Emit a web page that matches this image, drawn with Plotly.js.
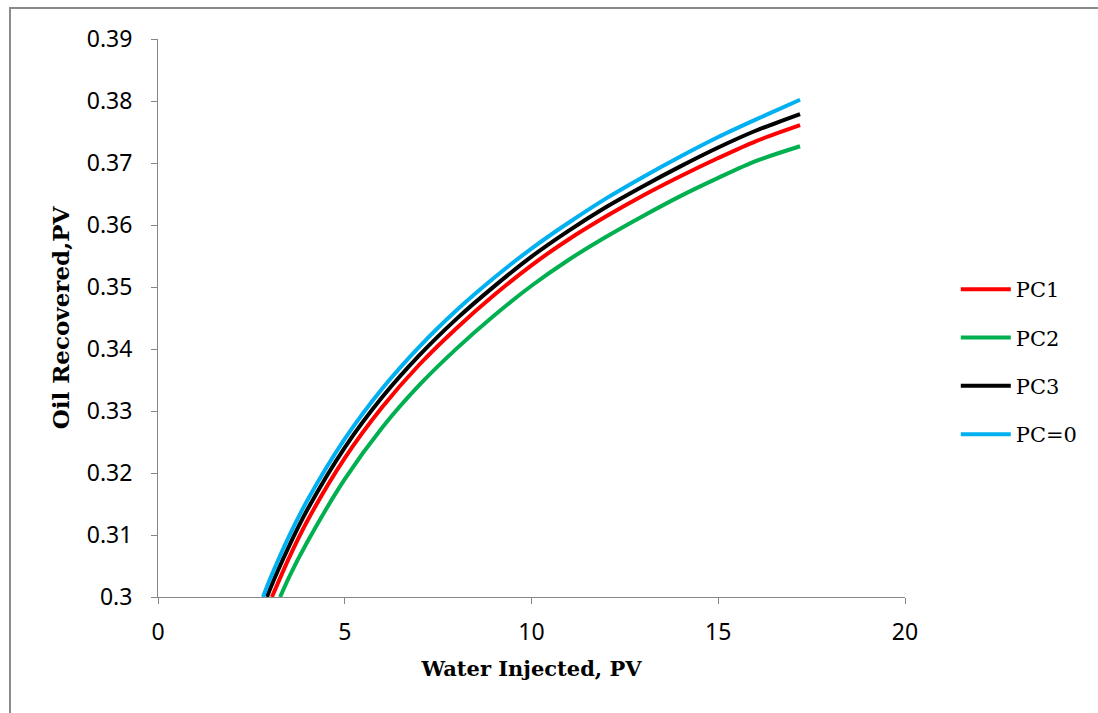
<!DOCTYPE html>
<html>
<head>
<meta charset="utf-8">
<script src="https://cdn.plot.ly/plotly-3.0.1.min.js"></script>
<style>
  html, body { margin: 0; padding: 0; background: #fff; }
  #wrap { position: relative; width: 1098px; height: 713px; }
  #chart { position: absolute; left: 0; top: 0; width: 1098px; height: 713px; }
  #frame { position: absolute; left: 9px; top: 7px; width: 1100px; height: 720px;
           border-left: 2px solid #8a8a8a; border-top: 2px solid #8a8a8a; pointer-events: none; }
</style>
</head>
<body>
<div id="wrap">
  <div id="chart"></div>
  <div id="frame"></div>
</div>
<script>
// Data
const seriesNames = ["PC1", "PC2", "PC3", "PC=0"];
const seriesColors = ["#FF0000", "#00B050", "#000000", "#00B0F0"];

const xPC1 = [3.05, 3.5, 4, 5, 6, 7, 8, 9, 10, 11, 12, 13, 14, 15, 16, 17.19];
const yPC1 = [0.300, 0.3062, 0.3123, 0.3224, 0.3306, 0.3375, 0.3434, 0.3487, 0.3535, 0.3577, 0.3614, 0.3648, 0.3679, 0.3708, 0.3735, 0.3761];

const xPC2 = [3.27, 3.5, 4, 5, 6, 7, 8, 9, 10, 11, 12, 13, 14, 15, 16, 17.19];
const yPC2 = [0.300, 0.3031, 0.3089, 0.3190, 0.3273, 0.3342, 0.3401, 0.3454, 0.3502, 0.3544, 0.3581, 0.3615, 0.3647, 0.3676, 0.3703, 0.3727];

const xPC3 = [2.92, 3, 3.5, 4, 5, 6, 7, 8, 9, 10, 11, 12, 13, 14, 15, 16, 17.19];
const yPC3 = [0.300, 0.3013, 0.3081, 0.3141, 0.3241, 0.3322, 0.3390, 0.3449, 0.3501, 0.3549, 0.3591, 0.3629, 0.3663, 0.3695, 0.3725, 0.3752, 0.3779];

const xPC0 = [2.81, 3, 3.5, 4, 5, 6, 7, 8, 9, 10, 11, 12, 13, 14, 15, 16, 17.19];
const yPC0 = [0.300, 0.3029, 0.3097, 0.3156, 0.3255, 0.3336, 0.3404, 0.3463, 0.3515, 0.3562, 0.3604, 0.3643, 0.3678, 0.3711, 0.3742, 0.3770, 0.3802];

const xTicks = [0, 5, 10, 15, 20];
const yTicks = [0.3, 0.31, 0.32, 0.33, 0.34, 0.35, 0.36, 0.37, 0.38, 0.39];

const xs = [xPC1, xPC2, xPC3, xPC0];
const ys = [yPC1, yPC2, yPC3, yPC0];

const traces = seriesNames.map((n, i) => ({
  type: "scatter",
  mode: "lines",
  name: n,
  x: xs[i],
  y: ys[i],
  line: { color: seriesColors[i], width: 4, shape: "spline", smoothing: 0.8 },
  legendgroup: n
}));

const tickFont = { family: "Noto Sans, Open Sans, sans-serif", size: 23, color: "#000" };
const serif = "DejaVu Serif, Liberation Serif, serif";

const layout = {
  width: 1098,
  height: 713,
  margin: { l: 158, r: 193, t: 39, b: 116, pad: 0 },
  paper_bgcolor: "#fff",
  plot_bgcolor: "#fff",
  showlegend: true,
  legend: {
    x: 1.068, xanchor: "left",
    y: 0.421, yanchor: "middle",
    font: { family: serif, size: 21, color: "#000" },
    traceorder: "grouped",
    tracegroupgap: 18,
    itemwidth: 50,
    bgcolor: "rgba(0,0,0,0)"
  },
  xaxis: {
    range: [0, 20],
    tickvals: xTicks,
    ticktext: xTicks.map(String),
    showgrid: false,
    zeroline: false,
    showline: true,
    linecolor: "#868686",
    linewidth: 1,
    ticks: "outside",
    ticklen: 6,
    tickcolor: "#868686",
    tickfont: tickFont,
    ticklabelstandoff: 8,
    title: { text: "<b>Water Injected, PV</b>", font: { family: serif, size: 21, color: "#000" }, standoff: 15 }
  },
  yaxis: {
    range: [0.3, 0.39],
    tickvals: yTicks,
    ticktext: yTicks.map(v => String(+v.toFixed(2))),
    showgrid: false,
    zeroline: false,
    showline: true,
    linecolor: "#868686",
    linewidth: 1,
    ticks: "outside",
    ticklen: 6,
    tickcolor: "#868686",
    tickfont: tickFont,
    ticklabelstandoff: 14,
    title: { text: "<b>Oil Recovered,PV</b>", font: { family: serif, size: 23, color: "#000" }, standoff: 10 }
  }
};

Plotly.newPlot("chart", traces, layout, { displayModeBar: false, staticPlot: true });
</script>
</body>
</html>
